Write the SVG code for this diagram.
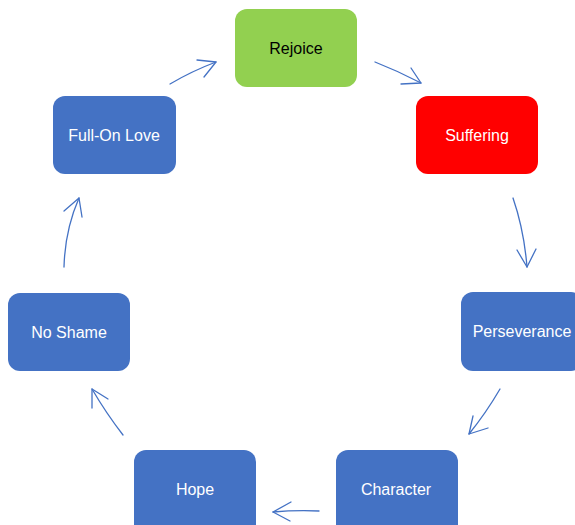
<svg xmlns="http://www.w3.org/2000/svg" width="575" height="525" viewBox="0 0 575 525">
<style>
.box{stroke:none}
.blue{fill:#4472C4}
.t{font-family:"Liberation Sans",Arial,sans-serif;font-size:16px;text-anchor:middle;dominant-baseline:central}
.w{fill:#ffffff}
.k{fill:#000000}
.c{fill:none;stroke:#4472C4;stroke-width:1.3;stroke-linecap:round;stroke-linejoin:round}
</style>
<rect width="575" height="525" fill="#ffffff"/>
<g id="connectors">
<path class="c" d="M170,84 Q192,71 216,62"/>
<path class="c" d="M197,60 L216,62 L204,77"/>
<path class="c" d="M375,62 Q398,71 421,83"/>
<path class="c" d="M411,68 L421,83 L401,84"/>
<path class="c" d="M513,198 Q524,230 527,267"/>
<path class="c" d="M517,250 L527,267 L536,249"/>
<path class="c" d="M500,389 Q486,413 469,434"/>
<path class="c" d="M473,416 L469,434 L488,428"/>
<path class="c" d="M319,511 Q296,510 273,512"/>
<path class="c" d="M291,502 L273,512 L290,521"/>
<path class="c" d="M123,435 Q106,413 92,389"/>
<path class="c" d="M92,408 L92,389 L108,399"/>
<path class="c" d="M64,267 Q65,230 79,198"/>
<path class="c" d="M64,211 L79,198 L82,217"/>
</g>
<g id="rejoice">
<rect class="box" x="235" y="9" width="122" height="78" rx="12" fill="#92D050"/>
<text class="t k" x="296" y="48">Rejoice</text>
</g>
<g id="suffering">
<rect class="box" x="416" y="96" width="122" height="78" rx="12" fill="#FF0000"/>
<text class="t w" x="477" y="135">Suffering</text>
</g>
<g id="perseverance">
<rect class="box blue" x="461" y="292" width="122" height="79" rx="12"/>
<text class="t w" x="522" y="331">Perseverance</text>
</g>
<g id="character">
<rect class="box blue" x="336" y="450" width="122" height="90" rx="12"/>
<text class="t w" x="396" y="489">Character</text>
</g>
<g id="hope">
<rect class="box blue" x="134" y="450" width="122" height="90" rx="12"/>
<text class="t w" x="195" y="489">Hope</text>
</g>
<g id="noshame">
<rect class="box blue" x="8" y="293" width="122" height="78" rx="12"/>
<text class="t w" x="69" y="332">No Shame</text>
</g>
<g id="fullonlove">
<rect class="box blue" x="53" y="96" width="123" height="78" rx="12"/>
<text class="t w" x="114" y="135">Full-On Love</text>
</g>
</svg>
